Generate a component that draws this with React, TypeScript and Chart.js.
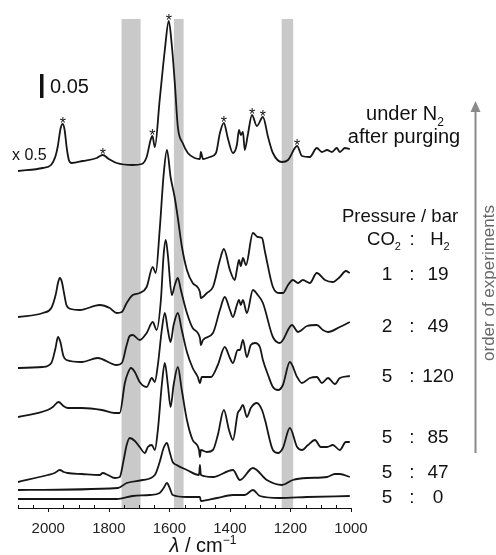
import React, { useEffect, useRef } from 'react';
import { Chart, registerables } from 'chart.js';

Chart.register(...registerables);

// Spectra: [wavenumber (cm^-1), absorbance in arbitrary units incl. stacking offset]
// (24 units correspond to the 0.05 scale bar)
const specN2: [number, number][] = [
  [2100, 337], [2018, 340], [1991, 343], [1976, 352], [1969, 361], [1959, 380], [1952, 384],
  [1946, 378], [1939, 360], [1932, 348], [1923, 345], [1886, 347], [1840, 350],
  [1820, 353], [1800, 349], [1774, 345], [1721, 343], [1691, 344], [1675, 351], [1662, 368], [1656, 372],
  [1648, 361], [1632, 408], [1615, 458], [1602, 487], [1592, 463], [1582, 425], [1572, 381],
  [1556, 365], [1539, 355], [1516, 350], [1499, 349], [1496, 356], [1489, 349], [1466, 351],
  [1446, 355], [1433, 375], [1420, 385], [1407, 370], [1390, 355], [1377, 363], [1370, 378],
  [1364, 373], [1357, 376], [1351, 358], [1341, 373], [1327, 393], [1311, 382], [1291, 391],
  [1274, 371], [1258, 355], [1228, 346], [1208, 348], [1178, 362], [1162, 352], [1136, 351],
  [1113, 360], [1096, 356], [1079, 358], [1063, 356], [1047, 360], [1037, 356], [1020, 360],
  [1004, 359],
];
const spec1_19: [number, number][] = [
  [2100, 191], [2018, 195], [1990, 200], [1975, 214], [1968, 225], [1962, 230], [1955, 226],
  [1948, 215], [1940, 203], [1925, 199], [1896, 198], [1830, 203], [1797, 200], [1774, 195],
  [1757, 196], [1741, 205], [1721, 213], [1698, 215], [1675, 221], [1655, 241], [1645, 235],
  [1632, 278], [1619, 333], [1608, 358], [1596, 331], [1582, 310], [1572, 290], [1559, 262],
  [1542, 238], [1523, 225], [1499, 216], [1496, 210], [1476, 215], [1456, 221], [1433, 248],
  [1420, 259], [1400, 238], [1384, 228], [1377, 238], [1370, 248], [1364, 242], [1357, 250],
  [1347, 243], [1324, 275], [1308, 271], [1294, 270], [1284, 256], [1258, 221], [1235, 215],
  [1225, 215], [1208, 223], [1192, 228], [1175, 225], [1159, 228], [1136, 225], [1113, 235],
  [1086, 228], [1060, 226], [1037, 231], [1017, 237], [1004, 235],
];
const spec2_49: [number, number][] = [
  [2100, 140], [2018, 141], [1990, 145], [1976, 160], [1968, 171], [1960, 166], [1950, 152],
  [1940, 148], [1889, 146], [1837, 150], [1774, 143], [1757, 145], [1741, 163], [1731, 172],
  [1721, 173], [1698, 168], [1675, 175], [1655, 186], [1642, 178], [1628, 208], [1619, 253],
  [1612, 268], [1605, 253], [1592, 213], [1582, 223], [1572, 230], [1562, 218], [1542, 195],
  [1523, 180], [1499, 170], [1496, 163], [1489, 168], [1456, 175], [1433, 198], [1417, 211],
  [1400, 198], [1390, 191], [1377, 203], [1370, 208], [1364, 203], [1357, 208], [1344, 195],
  [1324, 218], [1308, 213], [1291, 205], [1258, 171], [1235, 165], [1225, 168], [1195, 183],
  [1175, 176], [1145, 182], [1113, 183], [1093, 178], [1076, 176], [1037, 181], [1004, 186],
];
const spec5_120: [number, number][] = [
  [2100, 91], [2002, 98], [1985, 101], [1966, 106], [1950, 102], [1935, 100], [1889, 100],
  [1823, 98], [1780, 95], [1764, 95], [1747, 125], [1737, 135], [1727, 140], [1714, 136],
  [1698, 126], [1675, 121], [1658, 130], [1648, 126], [1638, 143], [1625, 178], [1615, 195],
  [1605, 178], [1596, 166], [1586, 183], [1572, 195], [1559, 178], [1542, 156], [1523, 140],
  [1506, 131], [1499, 125], [1493, 131], [1463, 131], [1440, 143], [1417, 161], [1400, 150],
  [1390, 145], [1374, 158], [1367, 158], [1357, 168], [1344, 151], [1331, 163], [1317, 165],
  [1301, 161], [1291, 148], [1274, 133], [1258, 121], [1241, 118], [1225, 123], [1202, 146],
  [1178, 131], [1162, 125], [1136, 130], [1113, 131], [1096, 125], [1076, 130], [1053, 124],
  [1037, 130], [1004, 132],
];
const spec5_85: [number, number][] = [
  [2100, 26], [2002, 33], [1979, 35], [1962, 38], [1949, 36], [1936, 35], [1889, 34],
  [1830, 33], [1820, 35], [1803, 33], [1780, 30], [1764, 31], [1751, 48], [1741, 63],
  [1731, 70], [1714, 67], [1698, 61], [1681, 55], [1671, 61], [1658, 63], [1648, 58],
  [1638, 78], [1625, 123], [1615, 145], [1605, 123], [1596, 101], [1586, 123], [1572, 141],
  [1559, 118], [1542, 88], [1523, 68], [1502, 58], [1499, 51], [1496, 58], [1476, 56],
  [1456, 58], [1440, 73], [1420, 98], [1403, 78], [1390, 68], [1374, 95], [1367, 98],
  [1357, 103], [1344, 91], [1331, 100], [1311, 105], [1294, 98], [1284, 88], [1258, 58],
  [1241, 55], [1225, 60], [1202, 80], [1178, 61], [1162, 58], [1142, 63], [1119, 68],
  [1100, 61], [1079, 61], [1060, 63], [1037, 58], [1017, 66], [1004, 66],
];
const spec5_47: [number, number][] = [
  [2100, 18], [1770, 20], [1741, 25], [1688, 28], [1648, 33], [1632, 46], [1619, 60],
  [1608, 65], [1599, 56], [1589, 46], [1576, 43], [1542, 38], [1502, 33], [1499, 43],
  [1496, 33], [1456, 31], [1390, 38], [1367, 28], [1324, 40], [1278, 28], [1228, 23],
  [1192, 28], [1145, 30], [1079, 31], [1053, 34], [1037, 34], [1004, 31],
];
const spec5_0: [number, number][] = [
  [2100, 9], [1774, 9], [1721, 12], [1665, 13], [1632, 15], [1619, 20], [1608, 25],
  [1599, 20], [1589, 13], [1542, 11], [1499, 11], [1496, 7], [1443, 10], [1390, 13],
  [1351, 13], [1324, 18], [1301, 12], [1235, 10], [1145, 11], [1004, 12],
];

const spectra = [specN2, spec1_19, spec2_49, spec5_120, spec5_85, spec5_47, spec5_0];

// Pressure ratios (CO2 : H2), bar
const pCO2 = ['1', '2', '5', '5', '5', '5'];
const pH2 = ['19', '49', '120', '85', '47', '0'];

// Highlighted wavenumber regions
const bands: [number, number][] = [[1758, 1695], [1585, 1553], [1229, 1191]];
// Starred peaks in the N2 spectrum
const starWn = [1952, 1820, 1656, 1602, 1420, 1327, 1291, 1178];
// x axis
const xLabels = [2000, 1800, 1600, 1400, 1200, 1000];
const scaleBarValue = '0.05';
const scaleBarUnits = 24;

const FONT = '"Liberation Sans", Arial, Helvetica, sans-serif';

type Part = [string, string];

function drawParts(ctx: CanvasRenderingContext2D, parts: Part[], x: number, y: number, size: number, align: string) {
  const fontFor = (k: string) =>
    k === 'sub' || k === 'sup'
      ? `${Math.round(size * 0.62)}px ${FONT}`
      : k === 'i'
      ? `italic ${size}px ${FONT}`
      : `${size}px ${FONT}`;
  const widths = parts.map(([t, k]) => {
    ctx.font = fontFor(k);
    return ctx.measureText(t).width;
  });
  const total = widths.reduce((a, b) => a + b, 0);
  let cx = align === 'center' ? x - total / 2 : align === 'right' ? x - total : x;
  ctx.textAlign = 'left';
  ctx.textBaseline = 'alphabetic';
  parts.forEach(([t, k], i) => {
    ctx.font = fontFor(k);
    const dy = k === 'sub' ? size * 0.28 : k === 'sup' ? -size * 0.42 : 0;
    ctx.fillText(t, cx, y + dy);
    cx += widths[i];
  });
}

const decorPlugin = {
  id: 'decor',
  beforeDatasetsDraw(chart: any) {
    const { ctx, chartArea, scales } = chart;
    const xs = scales.x;
    ctx.save();
    ctx.fillStyle = '#c9c9c9';
    bands.forEach(([a, b]) => {
      const x1 = xs.getPixelForValue(a);
      const x2 = xs.getPixelForValue(b);
      ctx.fillRect(x1, chartArea.top, x2 - x1, chartArea.bottom - chartArea.top);
    });
    ctx.restore();
  },
  afterDraw(chart: any) {
    const { ctx, chartArea, scales } = chart;
    const xs = scales.x;
    const ys = scales.y;
    ctx.save();
    // tick marks
    ctx.strokeStyle = '#111';
    ctx.lineWidth = 1;
    const yb = chartArea.bottom;
    xs.ticks.forEach((t: any) => {
      const px = Math.round(xs.getPixelForValue(t.value)) + 0.5;
      ctx.beginPath();
      if (xLabels.includes(t.value)) {
        ctx.moveTo(px, yb);
        ctx.lineTo(px, yb + 4);
      } else {
        ctx.moveTo(px, yb);
        ctx.lineTo(px, yb - 3);
      }
      ctx.stroke();
    });

    ctx.fillStyle = '#111';
    // axis title
    drawParts(ctx, [['λ', 'i'], [' / cm', 'n'], ['−1', 'sup']], 203, 552, 20, 'center');

    // stars above peaks of N2 spectrum
    ctx.font = `16px ${FONT}`;
    ctx.textAlign = 'center';
    ctx.textBaseline = 'alphabetic';
    starWn.forEach((w) => {
      let best = specN2[0];
      specN2.forEach((p) => {
        if (Math.abs(p[0] - w) < Math.abs(best[0] - w)) best = p;
      });
      ctx.fillText('*', xs.getPixelForValue(best[0]), ys.getPixelForValue(best[1]) + 5);
    });

    // scale bar
    const barTop = ys.getPixelForValue(410 + scaleBarUnits);
    const barBot = ys.getPixelForValue(410);
    ctx.fillRect(40, barTop, 3.5, barBot - barTop);
    ctx.font = `20px ${FONT}`;
    ctx.textAlign = 'left';
    ctx.fillText(scaleBarValue, 50, barBot - 5);

    // x 0.5
    ctx.font = `16px ${FONT}`;
    ctx.fillText('x 0.5', 12, 160);

    // annotations right
    drawParts(ctx, [['under N', 'n'], ['2', 'sub']], 405, 120, 20, 'center');
    drawParts(ctx, [['after purging', 'n']], 404, 143, 20, 'center');
    drawParts(ctx, [['Pressure / bar', 'n']], 400, 222, 18.5, 'center');
    drawParts(ctx, [['CO', 'n'], ['2', 'sub']], 384, 245, 18.5, 'center');
    drawParts(ctx, [[':', 'n']], 412, 245, 18.5, 'center');
    drawParts(ctx, [['H', 'n'], ['2', 'sub']], 440, 245, 18.5, 'center');
    const rowY = [280, 332, 382, 443, 478, 503];
    pCO2.forEach((c, i) => {
      drawParts(ctx, [[c, 'n']], 387, rowY[i], 19, 'center');
      drawParts(ctx, [[':', 'n']], 412, rowY[i], 19, 'center');
      drawParts(ctx, [[pH2[i], 'n']], 438, rowY[i], 19, 'center');
    });

    // arrow
    ctx.strokeStyle = '#8a8a8a';
    ctx.fillStyle = '#8a8a8a';
    ctx.lineWidth = 2;
    ctx.beginPath();
    ctx.moveTo(475.5, 453);
    ctx.lineTo(475.5, 110);
    ctx.stroke();
    ctx.beginPath();
    ctx.moveTo(475.5, 101);
    ctx.lineTo(470.5, 112);
    ctx.lineTo(480.5, 112);
    ctx.closePath();
    ctx.fill();

    ctx.fillStyle = '#666';
    ctx.translate(494, 283);
    ctx.rotate(-Math.PI / 2);
    ctx.font = `17px ${FONT}`;
    ctx.textAlign = 'center';
    ctx.textBaseline = 'alphabetic';
    ctx.fillText('order of experiments', 0, 0);
    ctx.restore();
  },
};

export default function App() {
  const ref = useRef<HTMLCanvasElement>(null);
  useEffect(() => {
    if (!ref.current) return;
    const chart = new Chart(ref.current, {
      type: 'line',
      data: {
        datasets: spectra.map((s) => ({
          data: s.map(([x, y]) => ({ x, y })),
          borderColor: '#161616',
          borderWidth: 1.8,
          pointRadius: 0,
          cubicInterpolationMode: 'monotone',
          fill: false,
        })),
      },
      options: {
        animation: false,
        responsive: true,
        maintainAspectRatio: false,
        layout: { padding: { left: 18, right: 145, top: 19, bottom: 0 } },
        plugins: { legend: { display: false }, tooltip: { enabled: false } },
        scales: {
          x: {
            type: 'linear',
            reverse: true,
            min: 1000,
            max: 2100,
            afterFit: (scale: any) => {
              scale.height = 47;
            },
            grid: { display: false, drawTicks: false },
            border: { display: true, color: '#111', width: 1 },
            ticks: {
              stepSize: 50,
              autoSkip: false,
              maxRotation: 0,
              padding: 12,
              color: '#222',
              font: { family: FONT, size: 15 },
              callback: (v: any) => (xLabels.includes(Number(v)) ? String(v) : ''),
            },
          },
          y: { display: false, min: 0, max: 489 },
        },
      },
      plugins: [decorPlugin],
    });
    return () => chart.destroy();
  }, []);
  return (
    <div style={{ position: 'absolute', left: 0, top: 0, width: 496, height: 555, background: '#fff' }}>
      <canvas ref={ref} />
    </div>
  );
}
